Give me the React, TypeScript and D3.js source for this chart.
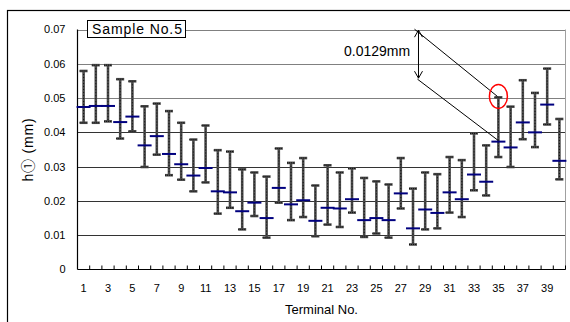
import React from "react";
import * as d3 from "d3";

const terminals: number[] = d3.range(1, 41);
const maxVals: number[] = [0.0579, 0.0596, 0.0596, 0.0555, 0.0549, 0.0476, 0.0484, 0.0462, 0.0428, 0.0379, 0.0420, 0.0348, 0.0344, 0.0292, 0.0283, 0.0271, 0.0353, 0.0311, 0.0325, 0.0245, 0.0304, 0.0283, 0.0295, 0.0267, 0.0257, 0.0248, 0.0325, 0.0236, 0.0283, 0.0278, 0.0328, 0.0319, 0.0397, 0.0362, 0.0502, 0.0475, 0.0552, 0.0515, 0.0586, 0.0439];
const minVals: number[] = [0.0428, 0.0428, 0.0432, 0.0382, 0.0403, 0.0299, 0.0335, 0.0275, 0.0262, 0.0228, 0.0254, 0.0163, 0.0180, 0.0117, 0.0156, 0.0093, 0.0195, 0.0144, 0.0153, 0.0097, 0.0131, 0.0124, 0.0166, 0.0095, 0.0105, 0.0093, 0.0178, 0.0073, 0.0117, 0.0120, 0.0166, 0.0153, 0.0231, 0.0216, 0.0328, 0.0299, 0.0380, 0.0357, 0.0423, 0.0263];
const meanVals: number[] = [0.0474, 0.0477, 0.0477, 0.0430, 0.0446, 0.0362, 0.0389, 0.0337, 0.0307, 0.0274, 0.0296, 0.0228, 0.0225, 0.0170, 0.0195, 0.0150, 0.0238, 0.0190, 0.0202, 0.0142, 0.0180, 0.0178, 0.0205, 0.0144, 0.0150, 0.0144, 0.0222, 0.0120, 0.0175, 0.0165, 0.0225, 0.0205, 0.0277, 0.0256, 0.0373, 0.0356, 0.0429, 0.0400, 0.0481, 0.0317];
const yTicks: number[] = [0, 0.01, 0.02, 0.03, 0.04, 0.05, 0.06, 0.07];
const xTickLabels: number[] = terminals.filter((t) => t % 2 === 1);
const sampleLabel = "Sample No.5";
const annotationLabel = "0.0129mm";
const highlightTerminal = 35;
const arrowTopValue = 0.0698;
const arrowBottomValue = 0.0558;

const W = 570;
const H = 322;
const left = 77.5;
const right = 565.5;
const top = 29.5;
const bottom = 269.5;
const FONT = "'Liberation Sans', Arial, 'Noto Sans CJK JP', sans-serif";

export default function App() {
  const x = d3.scaleBand<number>().domain(terminals).range([left, right]).padding(0);
  const y = d3.scaleLinear().domain([0, 0.07]).range([bottom, top]);
  const bw = x.bandwidth();
  const xc = (t: number) => (x(t) as number) + bw / 2;
  const fmt = (v: number) => (v === 0 ? "0" : d3.format(".2f")(v));

  const hi = highlightTerminal - 1;
  const hx = xc(highlightTerminal);
  const hTop = y(maxVals[hi]);
  const hMean = y(meanVals[hi]);
  const ax = xc(28) + 0.45 * bw;
  const aTop = y(arrowTopValue);
  const aBot = y(arrowBottomValue);

  return (
    <svg width={W} height={H} style={{ position: "absolute", left: 0, top: 0, display: "block" }} fontFamily={FONT}>
      <rect x={0} y={0} width={W} height={H} fill="#fff" />
      <rect x={7.5} y={10.5} width={700} height={400} fill="none" stroke="#000" strokeWidth={1.2} />
      {/* gridlines */}
      {yTicks.filter((v) => v > 0).map((v) => (
        <line key={v} x1={left} x2={right} y1={Math.round(y(v)) + 0.5} y2={Math.round(y(v)) + 0.5} stroke={v >= 0.05 ? "#808080" : "#333"} strokeWidth={1} />
      ))}
      <line x1={right} x2={right} y1={top} y2={bottom} stroke="#a0a0a0" strokeWidth={1} />
      {/* axes */}
      <line x1={left} x2={left} y1={top} y2={bottom} stroke="#000" strokeWidth={1.2} />
      <line x1={left} x2={right} y1={bottom} y2={bottom} stroke="#000" strokeWidth={1.2} />
      {terminals.map((t) => (
        <line key={t} x1={(x(t) as number) + bw} x2={(x(t) as number) + bw} y1={bottom} y2={bottom - 4} stroke="#000" strokeWidth={1} />
      ))}
      {yTicks.map((v) => (
        <text key={v} x={65.5} y={y(v)} dy="0.36em" textAnchor="end" fontSize={11} fill="#000">
          {fmt(v)}
        </text>
      ))}
      {xTickLabels.map((t) => (
        <text key={t} x={xc(t)} y={292} textAnchor="middle" fontSize={11} fill="#000">
          {t}
        </text>
      ))}
      <text x={(left + right) / 2} y={314} textAnchor="middle" fontSize={13} fill="#000">
        Terminal No.
      </text>
      <text transform={`translate(33,${(top + bottom) / 2}) rotate(-90)`} textAnchor="middle" fontSize={14} letterSpacing={0.8} fill="#000">
        h① (mm)
      </text>
      {/* error bars */}
      {terminals.map((t, i) => {
        const cx = xc(t);
        const y1 = y(maxVals[i]);
        const y2 = y(minVals[i]);
        return (
          <g key={t}>
            <line x1={cx} x2={cx} y1={y1} y2={y2} stroke="#4a4a4a" strokeWidth={2.6} />
            <line x1={cx} x2={cx} y1={y1} y2={y2} stroke="#111" strokeWidth={1} strokeDasharray="1 2" />
            <line x1={cx - 4} x2={cx + 4} y1={y1} y2={y1} stroke="#4a4a4a" strokeWidth={2.6} />
            <line x1={cx - 4} x2={cx + 4} y1={y2} y2={y2} stroke="#4a4a4a" strokeWidth={2.6} />
            <line x1={cx - 4} x2={cx + 4} y1={y1} y2={y1} stroke="#111" strokeWidth={1} strokeDasharray="1 1" />
            <line x1={cx - 4} x2={cx + 4} y1={y2} y2={y2} stroke="#111" strokeWidth={1} strokeDasharray="1 1" />
          </g>
        );
      })}
      {terminals.map((t, i) => (
        <line key={"m" + t} x1={xc(t) - 7} x2={xc(t) + 7} y1={y(meanVals[i])} y2={y(meanVals[i])} stroke="#00007f" strokeWidth={2} />
      ))}
      {/* sample label */}
      <rect x={87.5} y={20.5} width={98} height={17} fill="#fff" stroke="#000" strokeWidth={1} />
      <text x={92} y={34} fontSize={14} letterSpacing={0.9} fill="#000">
        {sampleLabel}
      </text>
      {/* annotation */}
      <text x={344} y={56} fontSize={14} fill="#000">
        {annotationLabel}
      </text>
      <line x1={ax} x2={ax} y1={aTop} y2={aBot} stroke="#000" strokeWidth={1} />
      <path d={`M${ax - 4},${aTop + 7}L${ax},${aTop}L${ax + 4},${aTop + 7}`} fill="none" stroke="#000" strokeWidth={1} />
      <path d={`M${ax - 4},${aBot - 7}L${ax},${aBot}L${ax + 4},${aBot - 7}`} fill="none" stroke="#000" strokeWidth={1} />
      <line x1={ax - 4} y1={aTop - 1} x2={hx - 1} y2={hTop - 1} stroke="#000" strokeWidth={1} />
      <line x1={ax - 1} y1={aBot + 1} x2={hx} y2={hMean - 1} stroke="#000" strokeWidth={1} />
      <ellipse cx={hx} cy={hTop - 1} rx={9} ry={12} fill="none" stroke="#ff0000" strokeWidth={1.5} />
    </svg>
  );
}
